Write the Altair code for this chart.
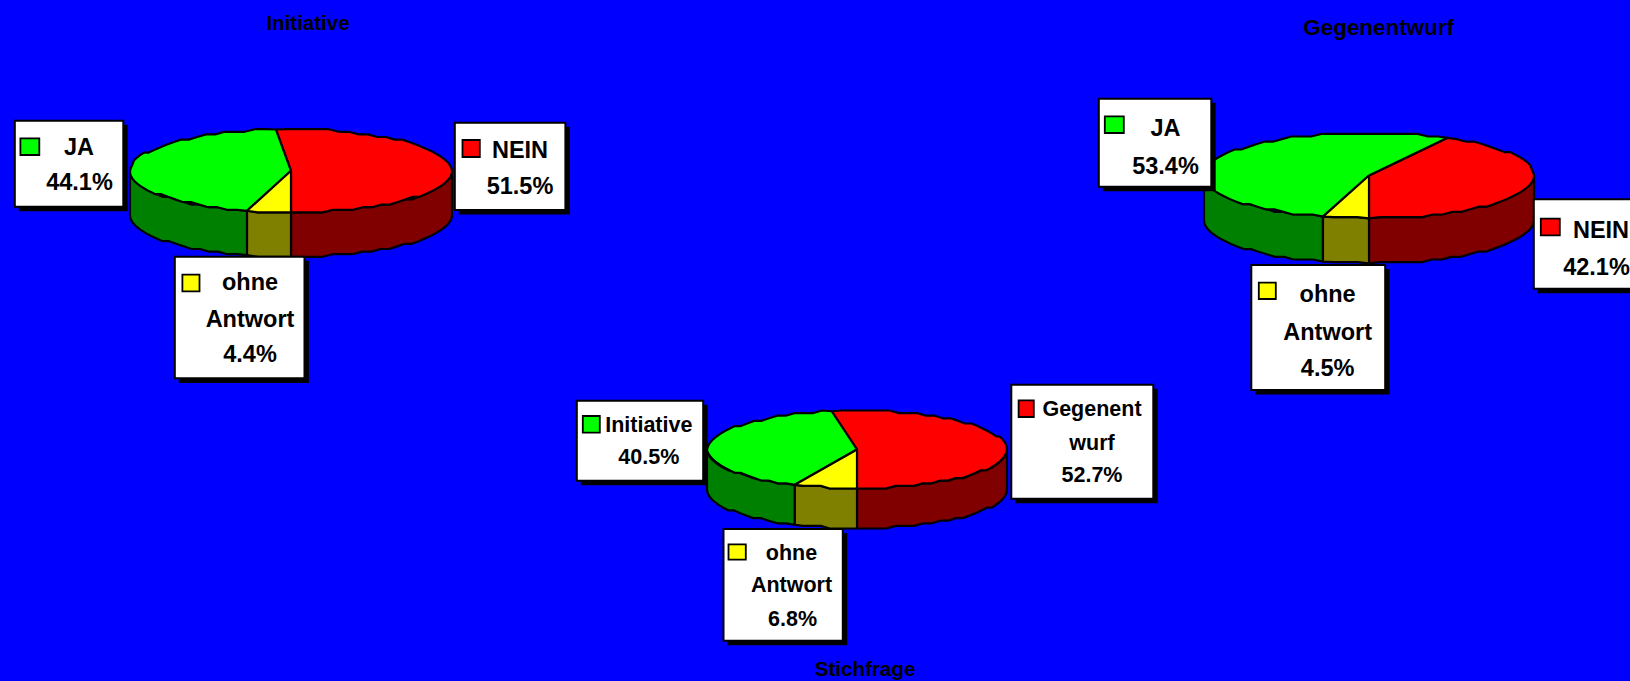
import math
import altair as alt
import pandas as pd

# ---- values ----
PIE_TITLES = ["Initiative", "Gegenentwurf", "Stichfrage"]
SHARE_RED = [51.5, 42.1, 52.7]
SHARE_GREEN = [44.1, 53.4, 40.5]
SHARE_YELLOW = [4.4, 4.5, 6.8]
RED_LABELS = [["NEIN"], ["NEIN"], ["Gegenent", "wurf"]]
GREEN_LABELS = [["JA"], ["JA"], ["Initiative"]]
YELLOW_LABELS = [["ohne", "Antwort"], ["ohne", "Antwort"], ["ohne", "Antwort"]]

# ---- styles ----
BLUE = "#0000ff"
TOP_COLORS = ["#ff0000", "#00ff00", "#ffff00"]
SIDE_COLORS = ["#800000", "#008000", "#808000"]
FONT = "Liberation Sans"

# ---- layout (screen pixels) ----
W, H = 1630, 681
# cx, cy, rx, ry, depth
PIE_GEOM = [(291, 170.8, 161, 41.5, 44.4), (1369, 175.5, 165, 42.8, 45), (857, 449.5, 150, 38.8, 40)]
# per pie, order red/green/yellow: box x0,x1,y0,y1
BOXES = [
    [(454, 564.6, 122.7, 210), (14, 122.5, 120.7, 206.7), (174, 303.7, 256.7, 378.3)],
    [(1533, 1650, 199.3, 288.7), (1098, 1210.5, 98.7, 186.7), (1250.5, 1384.4, 265, 390)],
    [(1010.5, 1152.5, 384.7, 498.7), (576, 702.4, 400.7, 480.7), (722.7, 842, 529, 640.7)],
]
BOX_SHIFT_X = 0.8
SWATCHES = [
    [(461.7, 479, 140, 157), (19.6, 38.5, 138.3, 155), (181.6, 198.7, 274.7, 291.3)],
    [(1540, 1559, 218.7, 235.3), (1104, 1123, 116.3, 133), (1258, 1275, 282.7, 299)],
    [(1017.8, 1033, 400.3, 417), (582, 599, 416, 432.7), (727.7, 745, 544.3, 559.7)],
]
# per box: x centre of label lines, x centre of percentage, baselines (last is the percentage)
TEXT_POS = [
    [(520, 520, [157.5, 193.8]), (79, 79.5, [154.5, 190.2]), (250, 250, [290.2, 326.8, 362.2])],
    [(1601, 1596.5, [238.2, 274.5]), (1165.5, 1165.5, [136.2, 174.2]), (1327.6, 1327.6, [301.8, 339.8, 376.2])],
    [(1092, 1092, [415.8, 450.2, 482.2]), (648.8, 648.8, [431.8, 463.8]), (791.5, 792.5, [559.8, 591.8, 626.2])],
]
TEXT_SIZE = [23.5, 23.5, 21.5]
TITLE_POS = [(308, 30), (1378.6, 34.5), (865, 675.5)]
TITLE_SIZES = [20.5, 22.4, 20.6]
STEPS = 96
SNAP = 2.6


def ring(cx, cy, rx, ry, a0, a1, dy=0.0):
    """Rim of the pie between two angles, with the coarse stair-stepped edge of the original."""
    n = max(2, int(round((a1 - a0) / 360 * STEPS)) + 1)
    pts = []
    for k in range(n):
        a = math.radians(a0 + (a1 - a0) * k / (n - 1))
        x = cx + rx * math.sin(a)
        y = cy + ry * math.cos(a)
        if 0 < k < n - 1:
            y = cy + round((y - cy) / SNAP) * SNAP
        pts.append((x, y + dy))
    return pts


polys = []
pid = 0


def add_poly(points, color):
    global pid
    points = list(points) + [points[0]]
    for i, (x, y) in enumerate(points):
        polys.append({"poly": pid, "i": i, "x": x, "y": y, "color": color})
    pid += 1


rects_shadow, rects_box, rects_swatch, texts = [], [], [], []
for p, (cx, cy, rx, ry, depth) in enumerate(PIE_GEOM):
    shares = [SHARE_RED[p], SHARE_GREEN[p], SHARE_YELLOW[p]]
    total = sum(shares)
    start = 0.0
    spans = []
    for s in shares:
        end = start + s / total * 360
        spans.append((start, end))
        start = end
    # visible walls first
    for (a0, a1), col in zip(spans, SIDE_COLORS):
        for lo, hi in ((0, 90), (270, 360)):
            b0, b1 = max(a0, lo), min(a1, hi)
            if b1 > b0:
                top = ring(cx, cy, rx, ry, b0, b1)
                bot = ring(cx, cy, rx, ry, b0, b1, depth)
                add_poly(top + bot[::-1], col)
    # then the lid
    for (a0, a1), col in zip(spans, TOP_COLORS):
        add_poly([(cx, cy)] + ring(cx, cy, rx, ry, a0, a1), col)

    labels = [RED_LABELS[p], GREEN_LABELS[p], YELLOW_LABELS[p]]
    for j in range(3):
        x0, x1, y0, y1 = BOXES[p][j]
        x0 += BOX_SHIFT_X
        x1 += BOX_SHIFT_X
        rects_shadow.append({"x": x0 + 4, "x2": x1 + 4.4, "y": y0 + 4, "y2": y1 + 4.6})
        rects_box.append({"x": x0, "x2": x1, "y": y0, "y2": y1})
        sx0, sx1, sy0, sy1 = SWATCHES[p][j]
        rects_swatch.append({"x": sx0 + BOX_SHIFT_X, "x2": sx1 + BOX_SHIFT_X, "y": sy0, "y2": sy1, "color": TOP_COLORS[j]})
        tx, px, bases = TEXT_POS[p][j]
        lines = labels[j] + [f"{shares[j]}%"]
        for n, (line, b) in enumerate(zip(lines, bases)):
            texts.append({"x": px if n == len(lines) - 1 else tx, "y": b, "t": line, "size": TEXT_SIZE[p]})

titles = [{"x": x, "y": y, "t": t, "size": s} for (x, y), t, s in zip(TITLE_POS, PIE_TITLES, TITLE_SIZES)]

X = alt.X("x:Q", scale=alt.Scale(domain=[0, W], range=[0, W]), axis=None)
Y = alt.Y("y:Q", scale=alt.Scale(domain=[H, 0], range=[H, 0]), axis=None)

pies = (
    alt.Chart(pd.DataFrame(polys))
    .mark_line(stroke="black", strokeWidth=2.2, strokeJoin="round", filled=True, interpolate="linear")
    .encode(x=X, y=Y, fill=alt.Fill("color:N", scale=None), detail="poly:N", order="i:Q")
)
shadow = (
    alt.Chart(pd.DataFrame(rects_shadow))
    .mark_rect(color="black")
    .encode(x=X, x2="x2:Q", y=Y, y2="y2:Q")
)
box = (
    alt.Chart(pd.DataFrame(rects_box))
    .mark_rect(fill="white", stroke="black", strokeWidth=2)
    .encode(x=X, x2="x2:Q", y=Y, y2="y2:Q")
)
swatch = (
    alt.Chart(pd.DataFrame(rects_swatch))
    .mark_rect(stroke="black", strokeWidth=1.8)
    .encode(x=X, x2="x2:Q", y=Y, y2="y2:Q", fill=alt.Fill("color:N", scale=None))
)
text = (
    alt.Chart(pd.DataFrame(texts))
    .mark_text(font=FONT, fontWeight="bold", align="center", baseline="alphabetic", color="black")
    .encode(x=X, y=Y, text="t:N", size=alt.Size("size:Q", scale=None))
)
title = (
    alt.Chart(pd.DataFrame(titles))
    .mark_text(font=FONT, fontWeight="bold", align="center", baseline="alphabetic", color="black")
    .encode(x=X, y=Y, text="t:N", size=alt.Size("size:Q", scale=None))
)

chart = (
    alt.layer(pies, shadow, box, swatch, text, title)
    .properties(width=W, height=H, background=BLUE, padding=0, autosize=alt.AutoSizeParams(type="none"))
    .configure_view(stroke=None, fill=BLUE)
)

chart.save(
    "out.html",
    embed_options={
        "renderer": "svg",
        "actions": False,
        "defaultStyle": "html,body{margin:0;padding:0;background:#0000ff;overflow:hidden}",
    },
)
